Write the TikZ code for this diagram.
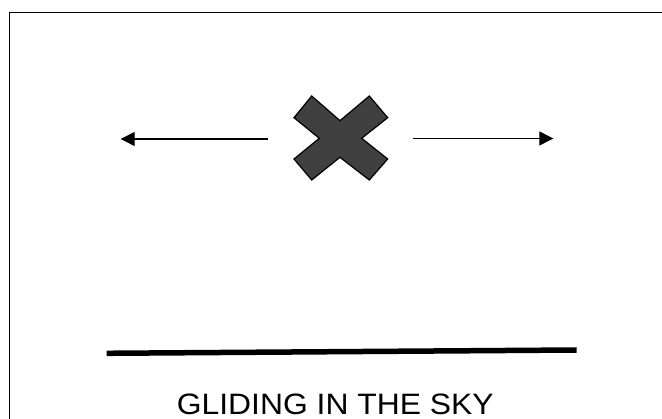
\documentclass[tikz,border=0pt]{standalone}
\usepackage{fontspec}
\setmainfont{Liberation Sans}
\usetikzlibrary{arrows.meta}
\tikzset{
  frame/.style={draw=black,line width=1.5pt},
  cross/.style={draw=black,fill=black!75,line width=1.2pt,line join=miter},
  sidearrow/.style={draw=black,line width=1.3pt,-{Triangle[length=14pt,width=14pt]}},
  ground/.style={draw=black,line width=5.5pt},
  caption/.style={font=\fontsize{29.5}{32}\selectfont,inner sep=0pt,anchor=base}
}
\begin{document}
\begin{tikzpicture}[x=1pt,y=-1pt]
\useasboundingbox (0,0) rectangle (662,419);
\clip (0,0) rectangle (662,419);
\fill[white] (0,0) rectangle (662,419);
\draw[frame] (9.5,12.5) rectangle (700,450);
% cross
\draw[cross] (311.7,96) -- (340,120.7) -- (369.3,96) -- (387.7,117.7) -- (361.7,138.3)
  -- (387.7,159) -- (369.3,180) -- (340,157.3) -- (311.7,180) -- (294,159)
  -- (319.3,138.3) -- (294,117.7) -- cycle;
% arrows
\coordinate (la) at (268,139);
\coordinate (lb) at (120.7,139);
\coordinate (ra) at (412.7,138.5);
\coordinate (rb) at (553.3,138.5);
\draw[sidearrow] (la) -- (lb);
\draw[sidearrow] (ra) -- (rb);
% ground line
\coordinate (g1) at (106.7,353.3);
\coordinate (g2) at (576.7,350);
\draw[ground] (g1) -- (g2);
\node[caption] (cap) at (335.3,414.3) {\scalebox{1.08}[1]{GLIDING IN THE SKY}};
\end{tikzpicture}
\end{document}
